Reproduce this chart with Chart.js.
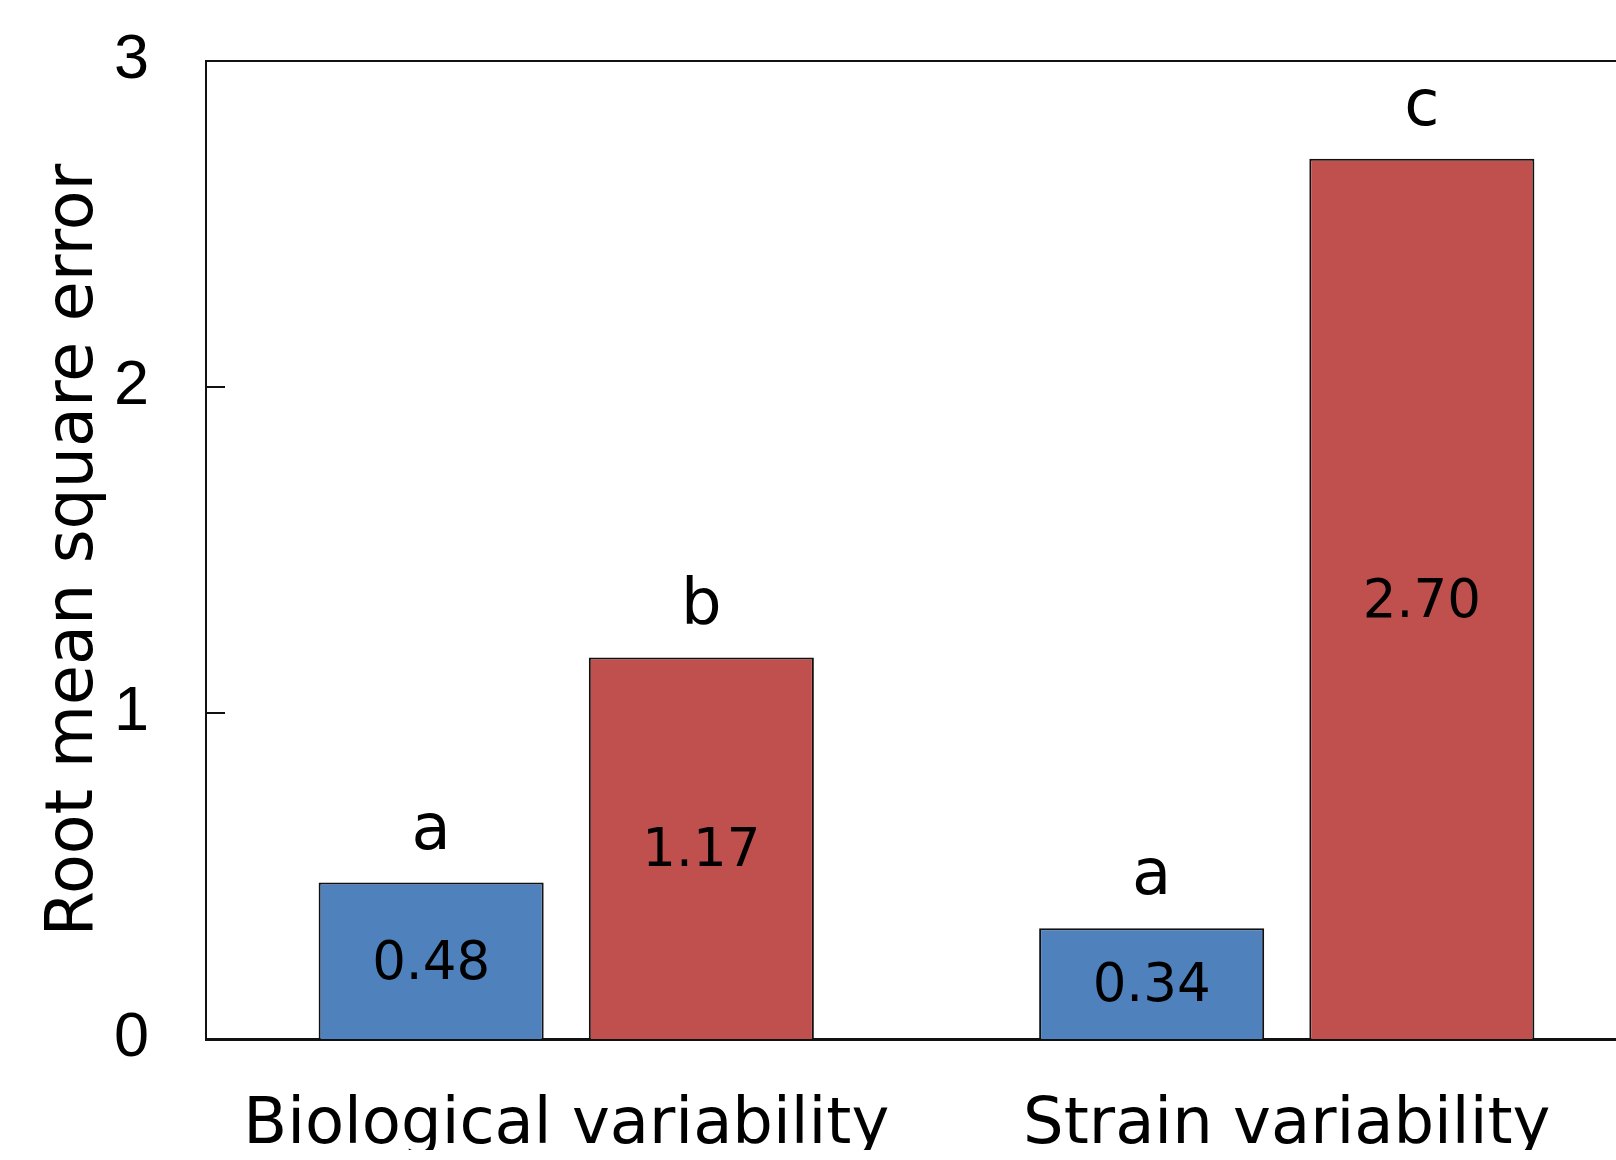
<!DOCTYPE html>
<html lang="en">
<head>
    <meta charset="UTF-8">
    <title>Root mean square error</title>
    <script src="https://cdn.jsdelivr.net/npm/chart.js"></script>
    <style>
        html, body {
            margin: 0;
            padding: 0;
            background: #fff;
            overflow: hidden;
        }

        /* plot area runs past the right edge of the window, like the original */
        .wrap {
            width: 1660px;
            height: 1150px;
        }
    </style>
</head>
<body>
    <div class="wrap">
        <canvas id="rmseChart"></canvas>
    </div>

    <script>
        // Data
        const categories = ['Biological variability', 'Strain variability'];
        const blueValues = [0.48, 0.34];
        const redValues = [1.17, 2.70];
        const blueLetters = ['a', 'a'];
        const redLetters = ['b', 'c'];
        const yTicks = [0, 1, 2, 3];

        const BLUE = '#4f81bd';
        const RED = '#c0504d';
        const VERDANA = "'DejaVu Sans', Verdana, sans-serif";
        const ARIAL = "'Liberation Sans', Arial, sans-serif";

        // Frame on top, inward tick marks, value and letter labels
        const decorations = {
            id: 'decorations',
            afterDatasetsDraw(chart) {
                const ctx = chart.ctx;
                const area = chart.chartArea;
                const yScale = chart.scales.y;

                ctx.save();
                ctx.strokeStyle = '#111';
                ctx.lineWidth = 2;
                ctx.beginPath();
                ctx.moveTo(area.left, area.top);
                ctx.lineTo(area.right, area.top);
                ctx.stroke();

                // ticks pointing into the plot
                yTicks.slice(1, -1).forEach(v => {
                    const y = yScale.getPixelForValue(v);
                    ctx.beginPath();
                    ctx.moveTo(area.left, y);
                    ctx.lineTo(area.left + 19, y);
                    ctx.stroke();
                });

                ctx.fillStyle = '#000';
                ctx.textAlign = 'center';
                chart.data.datasets.forEach((ds, i) => {
                    const meta = chart.getDatasetMeta(i);
                    meta.data.forEach((bar, j) => {
                        const mid = (bar.y + bar.base) / 2;
                        ctx.font = '53px ' + VERDANA;
                        ctx.textBaseline = 'middle';
                        ctx.fillText(ds.data[j].toFixed(2), bar.x, mid + 4);

                        ctx.font = '64px ' + VERDANA;
                        ctx.textBaseline = 'alphabetic';
                        ctx.fillText(ds.letters[j], bar.x, bar.y - 34);
                    });
                });
                ctx.restore();
            }
        };

        new Chart(document.getElementById('rmseChart'), {
            type: 'bar',
            data: {
                labels: categories,
                datasets: [
                    {
                        label: 'Series 1',
                        data: blueValues,
                        letters: blueLetters,
                        backgroundColor: BLUE,
                        borderColor: '#111',
                        borderWidth: 2
                    },
                    {
                        label: 'Series 2',
                        data: redValues,
                        letters: redLetters,
                        backgroundColor: RED,
                        borderColor: '#111',
                        borderWidth: 2
                    }
                ]
            },
            options: {
                responsive: true,
                maintainAspectRatio: false,
                animation: false,
                categoryPercentage: 0.75,
                barPercentage: 0.833,
                layout: {
                    padding: { top: 61, right: 13, left: 0, bottom: 0 }
                },
                plugins: {
                    legend: { display: false },
                    tooltip: { enabled: false }
                },
                scales: {
                    x: {
                        grid: { display: false, drawTicks: false },
                        border: { color: '#111', width: 3 },
                        ticks: {
                            color: '#000',
                            padding: 49,
                            maxRotation: 0,
                            font: { family: VERDANA, size: 64 }
                        },
                        afterFit(scale) { scale.height = 111; }
                    },
                    y: {
                        min: 0,
                        max: 3,
                        grid: { display: false, drawTicks: false },
                        border: { color: '#111', width: 2 },
                        afterBuildTicks(scale) {
                            scale.ticks = yTicks.map(v => ({ value: v }));
                        },
                        ticks: {
                            color: '#000',
                            padding: 57,
                            font: { family: ARIAL, size: 63 }
                        },
                        title: {
                            display: true,
                            text: 'Root mean square error',
                            color: '#000',
                            padding: { top: 36, bottom: 0 },
                            font: { family: VERDANA, size: 65 }
                        },
                        afterFit(scale) {
                            scale.width = 206;
                            // the big tick padding should not push the plot down
                            scale.paddingTop = 0;
                            scale.paddingBottom = 0;
                        }
                    }
                }
            },
            plugins: [decorations]
        });
    </script>
</body>
</html>
